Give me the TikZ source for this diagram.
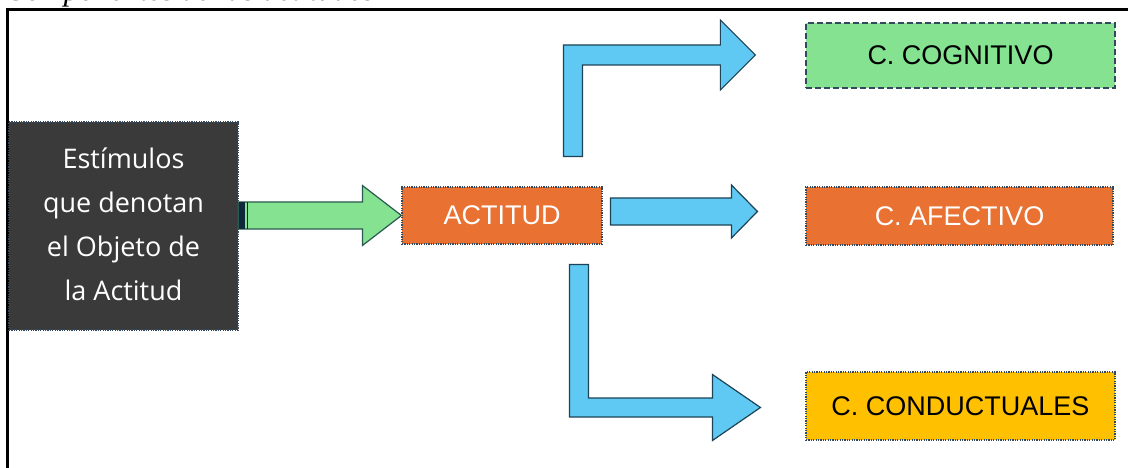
\documentclass[tikz,border=0pt]{standalone}
\usepackage{fontspec}
\setmainfont{Liberation Sans}
\newfontfamily\stimfont{Open Sans}
\newfontfamily\capfont{Liberation Serif}
\usetikzlibrary{calc}
\definecolor{stimgray}{HTML}{3A3A3A}
\definecolor{boxorange}{HTML}{E97132}
\definecolor{boxgreen}{HTML}{84E291}
\definecolor{boxyellow}{HTML}{FFC000}
\definecolor{arrblue}{HTML}{5FC9F3}
\definecolor{arredge}{HTML}{1E4356}
\definecolor{greenedge}{HTML}{2A5A50}
\definecolor{bordercol}{HTML}{34495E}
\definecolor{darknavy}{HTML}{0E2A3A}
\tikzset{
  basebox/.style={rectangle, inner sep=0pt, draw=bordercol, line width=1.1pt,
    dash pattern=on 1.2pt off 1.2pt, font=\fontsize{27}{32}\selectfont},
  dashbox/.style={basebox, line width=1.3pt, dash pattern=on 6pt off 3pt},
  barrow/.style={fill=arrblue, draw=arredge, line width=1.2pt, line join=miter},
  garrow/.style={fill=boxgreen, draw=greenedge, line width=1.2pt, line join=miter},
}
\begin{document}
\begin{tikzpicture}[x=1pt,y=-1pt]
\useasboundingbox (0,0) rectangle (1128,468);
\begin{scope}
\clip (0,0) rectangle (1128,468);
\node[anchor=base west, inner sep=0pt, font=\capfont\itshape\fontsize{31}{36}\selectfont] (cap) at (5,0.5) {Componentes de las actitudes};
\end{scope}
% frame
\draw[line width=2.5pt] (7.5,468) -- (7.5,9.5) -- (1128,9.5);

% nodes
\node[basebox, fill=stimgray, text=white, minimum width=229pt, minimum height=208pt,
  font=\stimfont\fontsize{27}{44}\selectfont] (stim) at (123.5,226)
  {\raisebox{5pt}{\begin{tabular}{@{}c@{}}Estímulos\\que denotan\\el Objeto de\\la Actitud\end{tabular}}};
\node[basebox, fill=boxorange, text=white, minimum width=200pt, minimum height=57pt] (act) at (502,215.5) {ACTITUD};
\node[dashbox, fill=boxgreen, text=black, minimum width=309pt, minimum height=65pt] (cog) at (960.5,55.5) {C. COGNITIVO};
\node[basebox, fill=boxorange, text=white, minimum width=307pt, minimum height=58pt] (afe) at (959.5,216) {C. AFECTIVO};
\node[basebox, fill=boxyellow, text=black, minimum width=309pt, minimum height=68pt] (con) at (960.5,406) {C. CONDUCTUALES};

% green arrow stim -> act
\coordinate (g0) at (stim.east |- act.west);
\draw[garrow] ($(g0)+(0,-13.5)$) -- ($(act.west)+(-39,-13.5)$) -- ($(act.west)+(-39,-30)$)
  -- (act.west) -- ($(act.west)+(-39,30)$) -- ($(act.west)+(-39,13.5)$) -- ($(g0)+(0,13.5)$) -- cycle;
\fill[darknavy] ($(g0)+(0,-13.5)$) rectangle ($(g0)+(6,13.5)$);
\draw[darknavy, line width=1pt] ($(g0)+(9,-13.5)$) -- ($(g0)+(9,13.5)$);

% middle arrow act -> afe
\coordinate (m0) at ($(act.east)+(8,-4)$);
\coordinate (m1) at ($(afe.west |- m0)+(-48,0)$);
\draw[barrow] ($(m0)+(0,-13.5)$) -- ($(m1)+(-26,-13.5)$) -- ($(m1)+(-26,-26.5)$) -- (m1)
  -- ($(m1)+(-26,26.5)$) -- ($(m1)+(-26,13.5)$) -- ($(m0)+(0,13.5)$) -- cycle;

% top bent arrow act -> cog
\coordinate (t0) at ($(act.north east)+(-29.5,-30)$);
\coordinate (t1) at ($(cog.west)+(-50,-0.5)$);
\coordinate (tL) at ($(t0)+(-9.5,0)$);
\coordinate (tR) at ($(t0)+(9.5,0)$);
\coordinate (tHb) at ($(t1)+(-35,0)$);
\coordinate (tTop) at ($(t1)+(0,-10)$);
\coordinate (tBot) at ($(t1)+(0,10)$);
\draw[barrow] (tL) -- (tL |- tTop) -- (tHb |- tTop) -- ($(tHb)+(0,-35)$) -- (t1)
  -- ($(tHb)+(0,35)$) -- (tHb |- tBot) -- (tR |- tBot) -- (tR) -- cycle;

% bottom bent arrow act -> con
\coordinate (b0) at ($(act.south east)+(-23.5,20)$);
\coordinate (b1) at ($(con.west)+(-45,1.5)$);
\coordinate (bL) at ($(b0)+(-9.5,0)$);
\coordinate (bR) at ($(b0)+(9.5,0)$);
\coordinate (bHb) at ($(b1)+(-48,0)$);
\coordinate (bTop) at ($(b1)+(0,-9.5)$);
\coordinate (bBot) at ($(b1)+(0,9.5)$);
\draw[barrow] (bR) -- (bR |- bTop) -- (bHb |- bTop) -- ($(bHb)+(0,-33)$) -- (b1)
  -- ($(bHb)+(0,33)$) -- (bHb |- bBot) -- (bL |- bBot) -- (bL) -- cycle;
\end{tikzpicture}
\end{document}
